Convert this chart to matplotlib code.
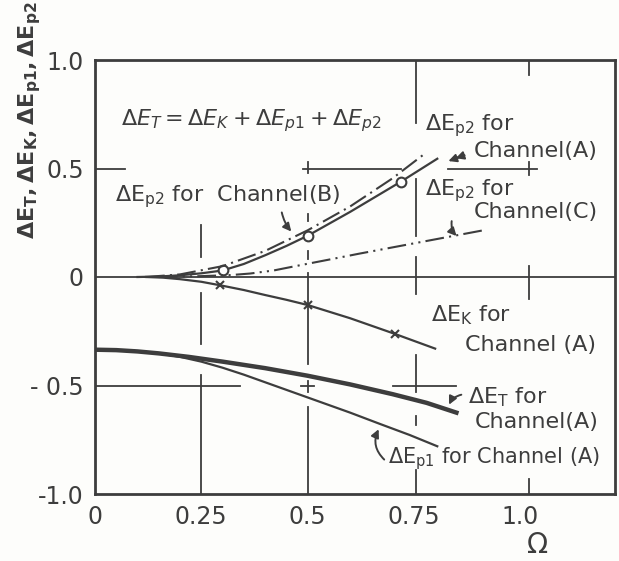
import matplotlib
matplotlib.use("Agg")
import matplotlib.pyplot as plt

plt.rcParams['font.family'] = ['DejaVu Sans']
plt.rcParams['mathtext.default'] = 'regular'

INK = "#3d3d3d"

# --- data ---
omega_ep2_a = [0.1, 0.15, 0.2, 0.25, 0.3, 0.35, 0.4, 0.45, 0.5, 0.6, 0.72, 0.805]
ep2_a = [0, 0.002, 0.008, 0.017, 0.03, 0.06, 0.1, 0.143, 0.19, 0.3, 0.44, 0.545]
omega_ep2_a_pts = [0.3, 0.5, 0.72]
ep2_a_pts = [0.03, 0.19, 0.44]

omega_ep2_b = [0.12, 0.2, 0.3, 0.4, 0.5, 0.6, 0.7, 0.78]
ep2_b = [0, 0.012, 0.05, 0.12, 0.215, 0.325, 0.455, 0.575]

omega_ep2_c = [0.15, 0.25, 0.32, 0.365, 0.42, 0.466, 0.55, 0.62, 0.75, 0.91]
ep2_c = [0, 0.004, 0.009, 0.016, 0.03, 0.048, 0.08, 0.107, 0.155, 0.214]

omega_ek = [0.12, 0.16, 0.2, 0.25, 0.294, 0.35, 0.4, 0.45, 0.5, 0.6, 0.705, 0.8]
ek = [0, -0.003, -0.01, -0.022, -0.038, -0.06, -0.083, -0.105, -0.129, -0.19, -0.262, -0.33]
omega_ek_pts = [0.294, 0.5, 0.705]
ek_pts = [-0.038, -0.129, -0.262]

omega_et = [0, 0.05, 0.1, 0.15, 0.22, 0.3, 0.4, 0.5, 0.6, 0.7, 0.78, 0.85]
et = [-0.335, -0.337, -0.343, -0.352, -0.368, -0.39, -0.42, -0.455, -0.495, -0.54, -0.58, -0.625]

omega_ep1 = [0, 0.05, 0.1, 0.15, 0.2, 0.25, 0.3, 0.35, 0.4, 0.46, 0.52, 0.6, 0.67, 0.74, 0.805]
ep1 = [-0.335, -0.337, -0.342, -0.352, -0.368, -0.39, -0.418, -0.45, -0.485, -0.527,
       -0.569, -0.625, -0.677, -0.728, -0.78]

x_ticks = [0, 0.25, 0.5, 0.75, 1.0]
x_tick_labels = ['0', '0.25', '0.5', '0.75', '1.0']
y_ticks = [-1.0, -0.5, 0, 0.5, 1.0]
y_tick_labels = ['-1.0', '- 0.5', '0', '0.5', '1.0']

# hand drawn grid fragments (x, [(y0, y1), ...]) and (y, [(x0, x1), ...])
v_grid = [
    (0.25, [(0.09, 0.24), (-0.31, -0.075), (-1.0, -0.45)]),
    (0.5, [(0.48, 0.53), (0.26, 0.29), (0.085, 0.12), (-0.4, 0.02), (-0.53, -0.48), (-1.0, -0.6)]),
    (0.755, [(0.71, 1.0), (0.19, 0.45), (-0.08, 0.09), (-0.53, -0.36), (-0.68, -0.64), (-1.0, -0.89)]),
    (1.02, [(0.93, 1.0), (0.47, 0.53), (-0.1, 0.05), (-1.0, -0.93)]),
]
h_grid = [
    (0.5, [(0, 0.07), (0.49, 0.72), (0.83, 1.04)]),
    (0.0, [(0, 1.23)]),
    (-0.5, [(0, 0.34), (0.485, 0.515), (0.7, 0.85)]),
]

fig = plt.figure(figsize=(6.19, 5.61), dpi=100)
fig.patch.set_facecolor("#fdfdfb")
ax = fig.add_axes([95 / 619, 1 - 494 / 561, 520 / 619, 434 / 561])
ax.set_facecolor("#fdfdfb")
ax.set_xlim(0, 1.223)
ax.set_ylim(-1.0, 1.0)

for x, segs in v_grid:
    for y0, y1 in segs:
        ax.plot([x, x], [y0, y1], color=INK, lw=1.3)
for y, segs in h_grid:
    for x0, x1 in segs:
        ax.plot([x0, x1], [y, y], color=INK, lw=1.3)

# curves
ax.plot(omega_ep2_a, ep2_a, color=INK, lw=1.6)
ax.plot(omega_ep2_a_pts, ep2_a_pts, 'o', ms=7, mfc='white', mec=INK, mew=1.5)
ax.plot(omega_ep2_b, ep2_b, color=INK, lw=1.5, dashes=(9, 2.5, 1, 2.5))
ax.plot(omega_ep2_c, ep2_c, color=INK, lw=1.5, dashes=(9, 2.5, 1, 2.5, 1, 2.5))
ax.plot(omega_ek, ek, color=INK, lw=1.6)
ax.plot(omega_ek_pts, ek_pts, 'x', ms=6, mec=INK, mew=1.5)
ax.plot(omega_et, et, color=INK, lw=3.2)
ax.plot(omega_ep1, ep1, color=INK, lw=1.6)

# texts
fs = 16
ax.text(0.06, 0.72, r'$\mathit{\Delta E_T = \Delta E_K + \Delta E_{p1} + \Delta E_{p2}}$',
        fontsize=16, color=INK, va='center')
ax.text(0.047, 0.37, 'ΔE$_{p2}$ for  Channel(B)', fontsize=fs, color=INK, va='center')
ax.text(0.776, 0.70, 'ΔE$_{p2}$ for', fontsize=fs, color=INK, va='center')
ax.text(0.89, 0.58, 'Channel(A)', fontsize=fs, color=INK, va='center')
ax.text(0.776, 0.40, 'ΔE$_{p2}$ for', fontsize=fs, color=INK, va='center')
ax.text(0.89, 0.30, 'Channel(C)', fontsize=fs, color=INK, va='center')
ax.text(0.79, -0.176, 'ΔE$_{K}$ for', fontsize=fs, color=INK, va='center')
ax.text(0.87, -0.313, 'Channel (A)', fontsize=fs, color=INK, va='center')
ax.text(0.878, -0.555, 'ΔE$_{T}$ for', fontsize=fs, color=INK, va='center')
ax.text(0.894, -0.67, 'Channel(A)', fontsize=fs, color=INK, va='center')
ax.text(0.69, -0.835, 'ΔE$_{p1}$ for Channel (A)', fontsize=15, color=INK, va='center')

# arrows
arr = dict(arrowstyle='-|>', color=INK, lw=1.4, mutation_scale=12)
ax.annotate('', xy=(0.466, 0.2), xytext=(0.438, 0.31),
            arrowprops=dict(arr, connectionstyle='arc3,rad=0.15'))
ax.annotate('', xy=(0.825, 0.53), xytext=(0.875, 0.565), arrowprops=arr)
ax.annotate('', xy=(0.842, 0.543), xytext=(0.875, 0.565), arrowprops=arr)
ax.annotate('', xy=(0.855, 0.18), xytext=(0.84, 0.27),
            arrowprops=dict(arr, connectionstyle='arc3,rad=0.3'))
ax.annotate('', xy=(0.83, -0.6), xytext=(0.868, -0.54),
            arrowprops=dict(arr, connectionstyle='arc3,rad=0.3'))
ax.annotate('', xy=(0.67, -0.69), xytext=(0.685, -0.85),
            arrowprops=dict(arr, connectionstyle='arc3,rad=-0.4'))

# axes
ax.set_xticks(x_ticks)
ax.set_xticklabels(x_tick_labels)
ax.set_yticks(y_ticks)
ax.set_yticklabels(y_tick_labels)
ax.tick_params(length=0, labelsize=17, colors=INK, pad=8)
for s in ax.spines.values():
    s.set_color(INK)
    s.set_linewidth(2.0)

ax.text(-0.125, 0.862, r'$\mathbf{\Delta E_T,\Delta E_K,\Delta E_{p1},\Delta E_{p2}}$',
        transform=ax.transAxes, rotation=90, fontsize=16, color=INK,
        ha='center', va='center')
ax.text(0.852, -0.118, 'Ω', transform=ax.transAxes, fontsize=20, color=INK,
        ha='center', va='center')

fig.savefig("out.png", dpi=100, facecolor=fig.get_facecolor())
